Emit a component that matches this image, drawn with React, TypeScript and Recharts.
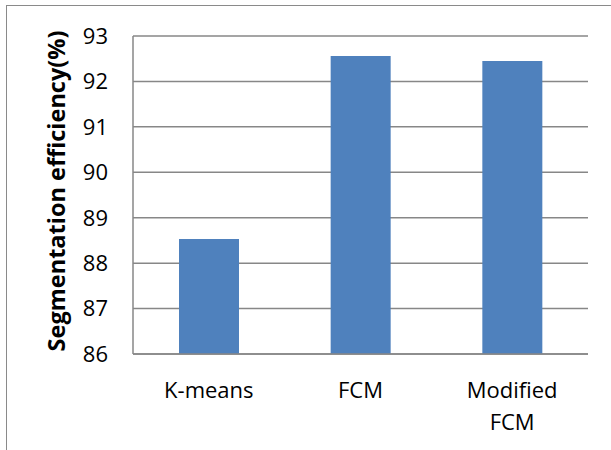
import React from 'react';
import { BarChart, Bar, XAxis, YAxis, CartesianGrid } from 'recharts';

// Segmentation efficiency per method
const categories = ['K-means', 'FCM', 'Modified FCM'];
const efficiency = [88.53, 92.56, 92.45];
const yTicks = [86, 87, 88, 89, 90, 91, 92, 93];

const data = categories.map((name, i) => ({ name, value: efficiency[i] }));

const FONT = '"Open Sans", sans-serif';
const GRID = '#878787';

function CategoryTick(props: any) {
  const { x, y, payload } = props;
  const lines = String(payload.value).split(' ');
  return (
    <text x={x} y={y} textAnchor="middle" fontFamily={FONT} fontSize={22} fill="#000">
      {lines.map((ln, i) => (
        <tspan key={i} x={x} dy={i === 0 ? 36 : 32}>
          {ln}
        </tspan>
      ))}
    </text>
  );
}

function YTitle() {
  return (
    <text
      x={56}
      y={191}
      transform="rotate(-90, 56, 191)"
      textAnchor="middle"
      dominantBaseline="central"
      fontFamily={FONT}
      fontWeight="bold"
      fontSize={23.5}
      fill="#000"
    >
      Segmentation efficiency(%)
    </text>
  );
}

export default function App() {
  return (
    <div style={{ position: 'absolute', left: 0, top: 0, width: 611, height: 450, background: '#fff', overflow: 'hidden' }}>
      <div
        style={{
          position: 'absolute',
          left: 6,
          top: 5,
          width: 640,
          height: 480,
          border: '1.5px solid #8a8a8a',
        }}
      />
      <BarChart
        width={611}
        height={450}
        data={data}
        margin={{ top: 36, right: 23, left: 0, bottom: 0 }}
        style={{ position: 'absolute', left: 0, top: 0 }}
      >
        <CartesianGrid vertical={false} stroke={GRID} strokeWidth={1.5} />
        <XAxis
          dataKey="name"
          height={96}
          axisLine={{ stroke: GRID, strokeWidth: 1.5 }}
          tickLine={false}
          tick={<CategoryTick />}
          interval={0}
        />
        <YAxis
          width={133}
          domain={[86, 93]}
          ticks={yTicks}
          axisLine={{ stroke: GRID, strokeWidth: 1.5 }}
          tickLine={false}
          tickSize={0}
          tickMargin={25}
          tick={{ fontFamily: FONT, fontSize: 22, fill: '#000' }}
          allowDataOverflow
          label={<YTitle />}
        />
        <Bar dataKey="value" fill="#4F81BD" barSize={60} isAnimationActive={false} />
      </BarChart>
    </div>
  );
}
